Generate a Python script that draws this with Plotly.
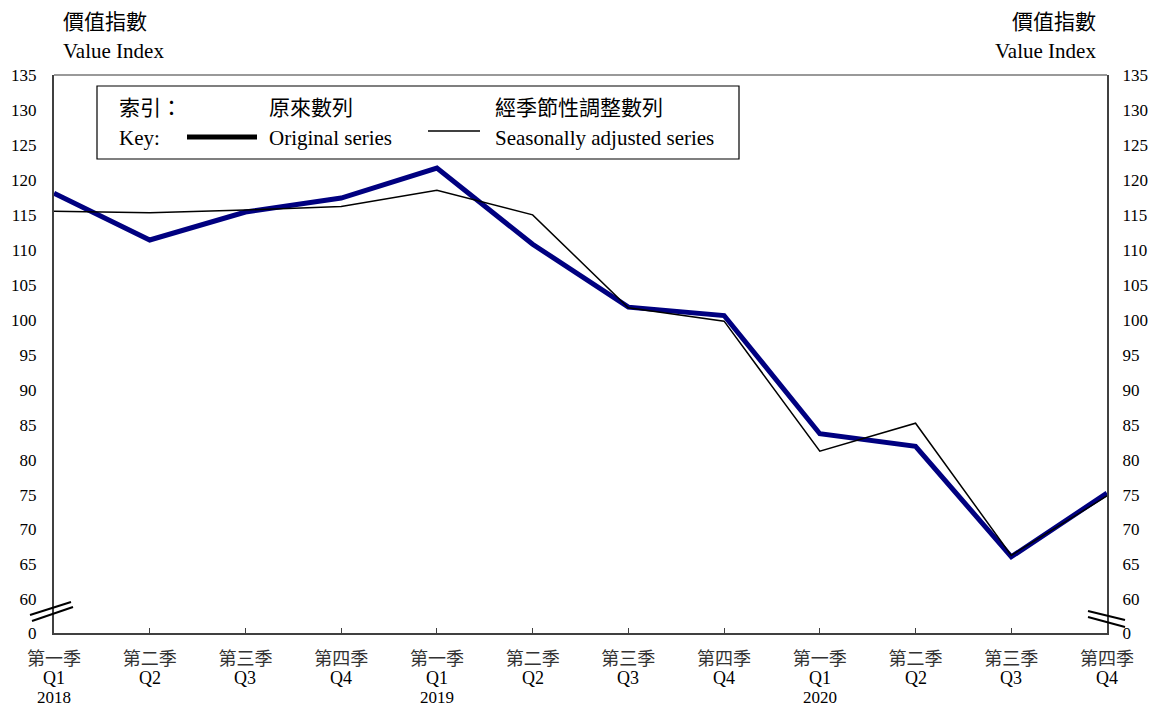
import plotly.graph_objects as go

quarters_zh = ["第一季", "第二季", "第三季", "第四季"] * 3
quarters_en = ["Q1", "Q2", "Q3", "Q4"] * 3
years = ["2018", "", "", "", "2019", "", "", "", "2020", "", "", ""]

original = [118.1, 111.4, 115.4, 117.4, 121.7, 110.8, 101.8, 100.6, 83.7, 81.9, 66.1, 75.2]
seas_adj = [115.5, 115.3, 115.7, 116.2, 118.5, 115.0, 101.7, 99.8, 81.2, 85.2, 66.3, 74.8]

y_tick_vals = [55.2, 60, 65, 70, 75, 80, 85, 90, 95, 100, 105, 110, 115, 120, 125, 130, 135]
y_tick_text = ["0", "60", "65", "70", "75", "80", "85", "90", "95", "100", "105", "110",
               "115", "120", "125", "130", "135"]

x_pos = list(range(len(original)))

FONT = "Liberation Serif, Times New Roman, Noto Sans CJK TC, serif"
W, H = 1153, 708
L, R, T, B = 54, 46, 75, 75
PW, PH = W - L - R, H - T - B


def px(x):
    return (x - L) / PW


def py(y):
    return (H - B - y) / PH


fig = go.Figure()
fig.add_trace(go.Scatter(x=x_pos, y=original, mode="lines", name="Original series",
                         line=dict(color="#000080", width=5), yaxis="y"))
fig.add_trace(go.Scatter(x=x_pos, y=seas_adj, mode="lines", name="Seasonally adjusted series",
                         line=dict(color="#000000", width=1.5), yaxis="y2"))

shapes = []
# top border
shapes.append(dict(type="line", xref="paper", yref="paper", x0=0, x1=1, y0=1, y1=1,
                   line=dict(color="#999999", width=2)))
# legend box
shapes.append(dict(type="rect", xref="paper", yref="paper", x0=px(97), x1=px(739),
                   y0=py(159), y1=py(86), line=dict(color="#000000", width=1.2),
                   fillcolor="white"))
shapes.append(dict(type="line", xref="paper", yref="paper", x0=px(187), x1=px(257),
                   y0=py(137), y1=py(137), line=dict(color="#000000", width=5)))
shapes.append(dict(type="line", xref="paper", yref="paper", x0=px(428), x1=px(480),
                   y0=py(131), y1=py(131), line=dict(color="#000000", width=1.5)))
# axis break marks
for (x0, y0, x1, y1) in [(30, 615, 71, 602), (32, 621, 73, 607),
                         (1088, 611, 1125, 620), (1088, 617, 1125, 627)]:
    shapes.append(dict(type="line", xref="paper", yref="paper", x0=px(x0), x1=px(x1),
                       y0=py(y0), y1=py(y1), line=dict(color="#000000", width=2)))

annotations = []


def ann(text, x, y, anchor, size=21):
    annotations.append(dict(text=text, xref="paper", yref="paper", x=px(x), y=py(y),
                            xanchor=anchor, yanchor="middle", showarrow=False,
                            font=dict(family=FONT, size=size, color="#000000")))


ann("價值指數", 61, 22, "left")
ann("Value Index", 61, 51, "left")
ann("價值指數", 1098, 22, "right")
ann("Value Index", 1098, 51, "right")
ann("索引：", 117, 108, "left")
ann("Key:", 117, 138, "left")
ann("原來數列", 267, 108, "left")
ann("Original series", 267, 138, "left")
ann("經季節性調整數列", 493, 108, "left")
ann("Seasonally adjusted series", 493, 138, "left")

# second and third lines of the x tick labels (quarter code, year)
for i, (q, yr) in enumerate(zip(quarters_en, years)):
    annotations.append(dict(text=q, xref="x", yref="paper", x=x_pos[i], y=py(689),
                            xanchor="center", yanchor="bottom", showarrow=False,
                            borderpad=0,
                            font=dict(family=FONT, size=18, color="#000000")))
    if yr:
        annotations.append(dict(text=yr, xref="x", yref="paper", x=x_pos[i], y=py(707.5),
                                xanchor="center", yanchor="bottom", showarrow=False,
                                borderpad=0,
                                font=dict(family=FONT, size=17, color="#000000")))

axis_font = dict(family=FONT, size=17, color="#000000")

fig.update_layout(
    template="none",
    width=W, height=H,
    margin=dict(l=L, r=R, t=T, b=B, pad=0, autoexpand=False),
    paper_bgcolor="white", plot_bgcolor="white",
    showlegend=False,
    font=dict(family=FONT, size=17, color="#000000"),
    xaxis=dict(range=[0, len(original) - 1], tickvals=x_pos, ticktext=quarters_zh,
               automargin=False,
               showgrid=False, zeroline=False, showline=True, linecolor="#404040",
               linewidth=2, ticks="inside", ticklen=5, tickcolor="#404040",
               tickfont=dict(family=FONT, size=18, color="#333333"),
               ticklabelstandoff=8),
    yaxis=dict(range=[55.2, 135], tickvals=y_tick_vals, ticktext=y_tick_text,
               automargin=False,
               showgrid=False, zeroline=False, showline=True, linecolor="#404040",
               linewidth=2, ticks="", tickfont=axis_font, ticklabelstandoff=12),
    yaxis2=dict(range=[55.2, 135], tickvals=y_tick_vals, ticktext=y_tick_text,
                automargin=False,
                overlaying="y", side="right", matches="y",
                showgrid=False, zeroline=False, showline=True, linecolor="#404040",
                linewidth=2, ticks="", tickfont=axis_font, ticklabelstandoff=10),
    shapes=shapes,
    annotations=annotations,
)

fig.write_html("out.html", config={"displayModeBar": False},
               post_script="document.body.style.margin='0';document.body.style.padding='0';")
